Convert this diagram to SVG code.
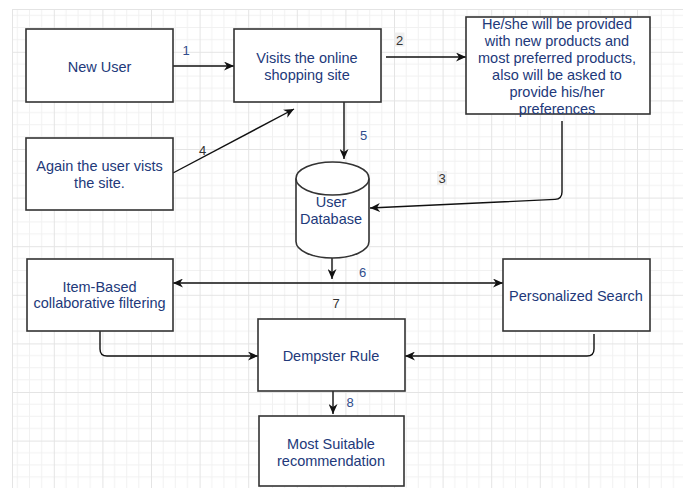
<svg xmlns="http://www.w3.org/2000/svg" width="683" height="488" viewBox="0 0 683 488">
<defs>
<pattern id="grid" patternUnits="userSpaceOnUse" x="5.2" y="3.2" width="48.6" height="48.6">
<path d="M12.15,0V48.6M24.3,0V48.6M36.45,0V48.6M0,12.15H48.6M0,24.3H48.6M0,36.45H48.6" stroke="#f1f1f1" stroke-width="1" fill="none"/>
<path d="M0.5,0V48.6M0,0.5H48.6" stroke="#e4e4e4" stroke-width="1" fill="none"/>
</pattern>
<marker id="ah" markerUnits="userSpaceOnUse" markerWidth="11" markerHeight="9" refX="10" refY="4.5" orient="auto" viewBox="0 0 11 9">
<path d="M0,0 L10,4.5 L0,9 L3,4.5 Z" fill="#111"/>
</marker>
<style>
.box{fill:#fff;stroke:#333;stroke-width:1.6}
.t{font-family:"Liberation Sans",Arial,sans-serif;font-size:14.5px;fill:#22397a;text-anchor:middle}
.n{font-family:"Liberation Sans",Arial,sans-serif;font-size:13px;fill:#2f4d8c;text-anchor:middle}
.c{fill:none;stroke:#111;stroke-width:1.4;marker-end:url(#ah)}
.cn{fill:none;stroke:#111;stroke-width:1.4}
</style>
</defs>
<rect width="683" height="488" fill="#fff"/>
<rect x="12" y="9" width="671" height="479" fill="url(#grid)"/>
<line x1="12" y1="9.5" x2="683" y2="9.5" stroke="#e4e4e4"/>
<line x1="12.5" y1="9" x2="12.5" y2="488" stroke="#e4e4e4"/>

<g id="connectors">
<path class="c" d="M173,66 L234,66"/>
<path class="c" d="M386,57 L466,57"/>
<path class="c" d="M562,121 L562,192 Q562,199 555,199.4 L370,208"/>
<path class="c" d="M173,173 L294,109"/>
<path class="c" d="M344,102 L344,159"/>
<path class="c" d="M332,258 L332,279"/>
<path class="c" d="M332,283 L173,283"/>
<path class="c" d="M332,283 L503,283"/>
<path class="c" d="M100,331 L100,349 Q100,356 107,356 L258,356"/>
<path class="c" d="M594,334 L594,349 Q594,356 587,356 L405,356"/>
<path class="c" d="M333,391 L333,414"/>
<text class="n" x="186" y="55">1</text>
<rect x="394.5" y="32.5" width="10" height="14" fill="#efefef"/>
<text class="n" x="399.5" y="44.5" style="fill:#333">2</text>
<rect x="437" y="171" width="10" height="14" fill="#efefef"/>
<text class="n" x="442" y="183" style="fill:#333">3</text>
<text class="n" x="202.5" y="155" style="fill:#333">4</text>
<text class="n" x="363.5" y="140">5</text>
<text class="n" x="362.5" y="277">6</text>
<text class="n" x="336" y="308" style="fill:#333">7</text>
<text class="n" x="350" y="407">8</text>
</g>

<g id="new-user">
<rect class="box" x="26" y="29" width="147" height="73"/>
<text class="t" x="99.5" y="72">New User</text>
</g>
<g id="visits-site">
<rect class="box" x="234" y="29" width="147" height="73"/>
<text class="t" x="307" y="63">Visits the online</text>
<text class="t" x="307" y="80">shopping site</text>
</g>
<g id="provided">
<rect class="box" x="466" y="17" width="184" height="97"/>
<text class="t" x="557" y="29">He/she will be provided</text>
<text class="t" x="557" y="46">with new products and</text>
<text class="t" x="557" y="63">most preferred products,</text>
<text class="t" x="557" y="80">also will be asked to</text>
<text class="t" x="557" y="97">provide his/her</text>
<text class="t" x="557" y="114">preferences</text>
</g>
<g id="again-user">
<rect class="box" x="26" y="138" width="147" height="72"/>
<text class="t" x="99.5" y="171">Again the user vists</text>
<text class="t" x="99.5" y="188">the site.</text>
</g>
<g id="user-database">
<path class="box" d="M296,178.5 A36.5,16.5 0 0 1 369,178.5 L369,241.5 A36.5,16.5 0 0 1 296,241.5 Z"/>
<path class="box" style="fill:none" d="M296,178.5 A36.5,16.5 0 0 0 369,178.5"/>
<text class="t" x="331" y="207">User</text>
<text class="t" x="331" y="224">Database</text>
</g>
<g id="item-based">
<rect class="box" x="27" y="259" width="146" height="72"/>
<text class="t" x="99.5" y="292">Item-Based</text>
<text class="t" x="99.5" y="308">collaborative filtering</text>
</g>
<g id="personalized-search">
<rect class="box" x="503" y="259" width="147" height="72"/>
<text class="t" x="576" y="301">Personalized Search</text>
</g>
<g id="dempster-rule">
<rect class="box" x="258" y="319" width="147" height="72"/>
<text class="t" x="331" y="361">Dempster Rule</text>
</g>
<g id="most-suitable">
<rect class="box" x="259" y="416" width="145" height="70"/>
<text class="t" x="331" y="449">Most Suitable</text>
<text class="t" x="331" y="466">recommendation</text>
</g>
</svg>
